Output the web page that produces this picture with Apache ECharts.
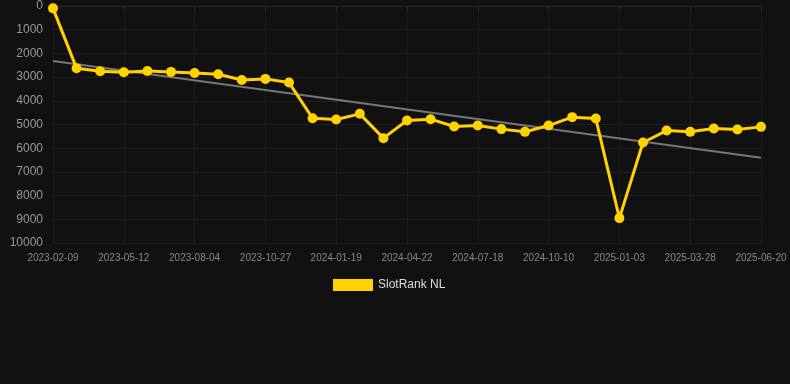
<!DOCTYPE html>
<html>
<head>
<meta charset="utf-8">
<script src="https://cdn.jsdelivr.net/npm/echarts@6/dist/echarts.min.js"></script>
<style>
  html, body { margin: 0; padding: 0; background: #111111; }
  #chart { width: 790px; height: 384px; }
</style>
</head>
<body>
<div id="chart"></div>
<script>
// dates (every third one is shown as a label)
const dates = [
  "2023-02-09", "2023-03-10", "2023-04-11", "2023-05-12", "2023-06-09", "2023-07-07",
  "2023-08-04", "2023-09-01", "2023-09-29", "2023-10-27", "2023-11-24", "2023-12-22",
  "2024-01-19", "2024-02-23", "2024-03-22", "2024-04-22", "2024-05-24", "2024-06-21",
  "2024-07-18", "2024-08-15", "2024-09-12", "2024-10-10", "2024-11-08", "2024-12-06",
  "2025-01-03", "2025-01-31", "2025-02-28", "2025-03-28", "2025-04-25", "2025-05-23",
  "2025-06-20"
];

// rank values
const rankNL = [
  100, 2630, 2750, 2795, 2740, 2780, 2825, 2880, 3120, 3075, 3230, 4735,
  4790, 4550, 5575, 4830, 4775, 5085, 5045, 5195, 5310, 5045, 4690, 4750,
  8950, 5760, 5255, 5310, 5170, 5210, 5100
];

// trend line endpoints (first and last date)
const trendEnds = [2320, 6400];

const yTicks = [0, 10000, 1000];

const chart = echarts.init(document.getElementById("chart"));

const option = {
  backgroundColor: "#111111",
  animation: false,
  grid: {
    left: 53,
    right: 29,
    top: 6,
    bottom: 141,
  },
  legend: {
    data: [{ name: "SlotRank NL", icon: "rect" }],
    top: 274,
    left: 328,
    itemWidth: 40,
    itemHeight: 12,
    itemGap: 6,
    textStyle: {
      color: "#dddddd",
      fontSize: 12,
      fontFamily: "Arial, Liberation Sans, sans-serif",
    },
  },
  xAxis: {
    type: "category",
    boundaryGap: false,
    data: dates,
    axisLine: { lineStyle: { color: "#2a2a2a" } },
    axisTick: {
      show: true,
      interval: 2,
      length: 5,
      lineStyle: { color: "#2a2a2a" },
    },
    axisLabel: {
      interval: 2,
      color: "#888888",
      fontSize: 10,
      margin: 10,
      fontFamily: "Arial, Liberation Sans, sans-serif",
    },
    splitLine: {
      show: true,
      interval: 2,
      lineStyle: { color: "#1c1c1c" },
    },
  },
  yAxis: {
    type: "value",
    inverse: true,
    min: yTicks[0],
    max: yTicks[1],
    interval: yTicks[2],
    axisLine: { show: false },
    axisTick: { show: false },
    axisLabel: {
      color: "#999999",
      fontSize: 12,
      margin: 10,
      formatter: (v) => String(v),
      fontFamily: "Arial, Liberation Sans, sans-serif",
    },
    splitLine: {
      lineStyle: { color: "#1f1f1f" },
    },
  },
  series: [
    {
      name: "Trend",
      type: "line",
      data: [
        [dates[0], trendEnds[0]],
        [dates[dates.length - 1], trendEnds[1]],
      ],
      symbol: "none",
      lineStyle: { color: "#777777", width: 2 },
      z: 1,
      silent: true,
    },
    {
      name: "SlotRank NL",
      type: "line",
      data: rankNL,
      symbol: "circle",
      symbolSize: 10,
      itemStyle: { color: "#ffd200" },
      lineStyle: { color: "#ffd200", width: 3 },
      z: 3,
    },
  ],
};

chart.setOption(option);
</script>
</body>
</html>
